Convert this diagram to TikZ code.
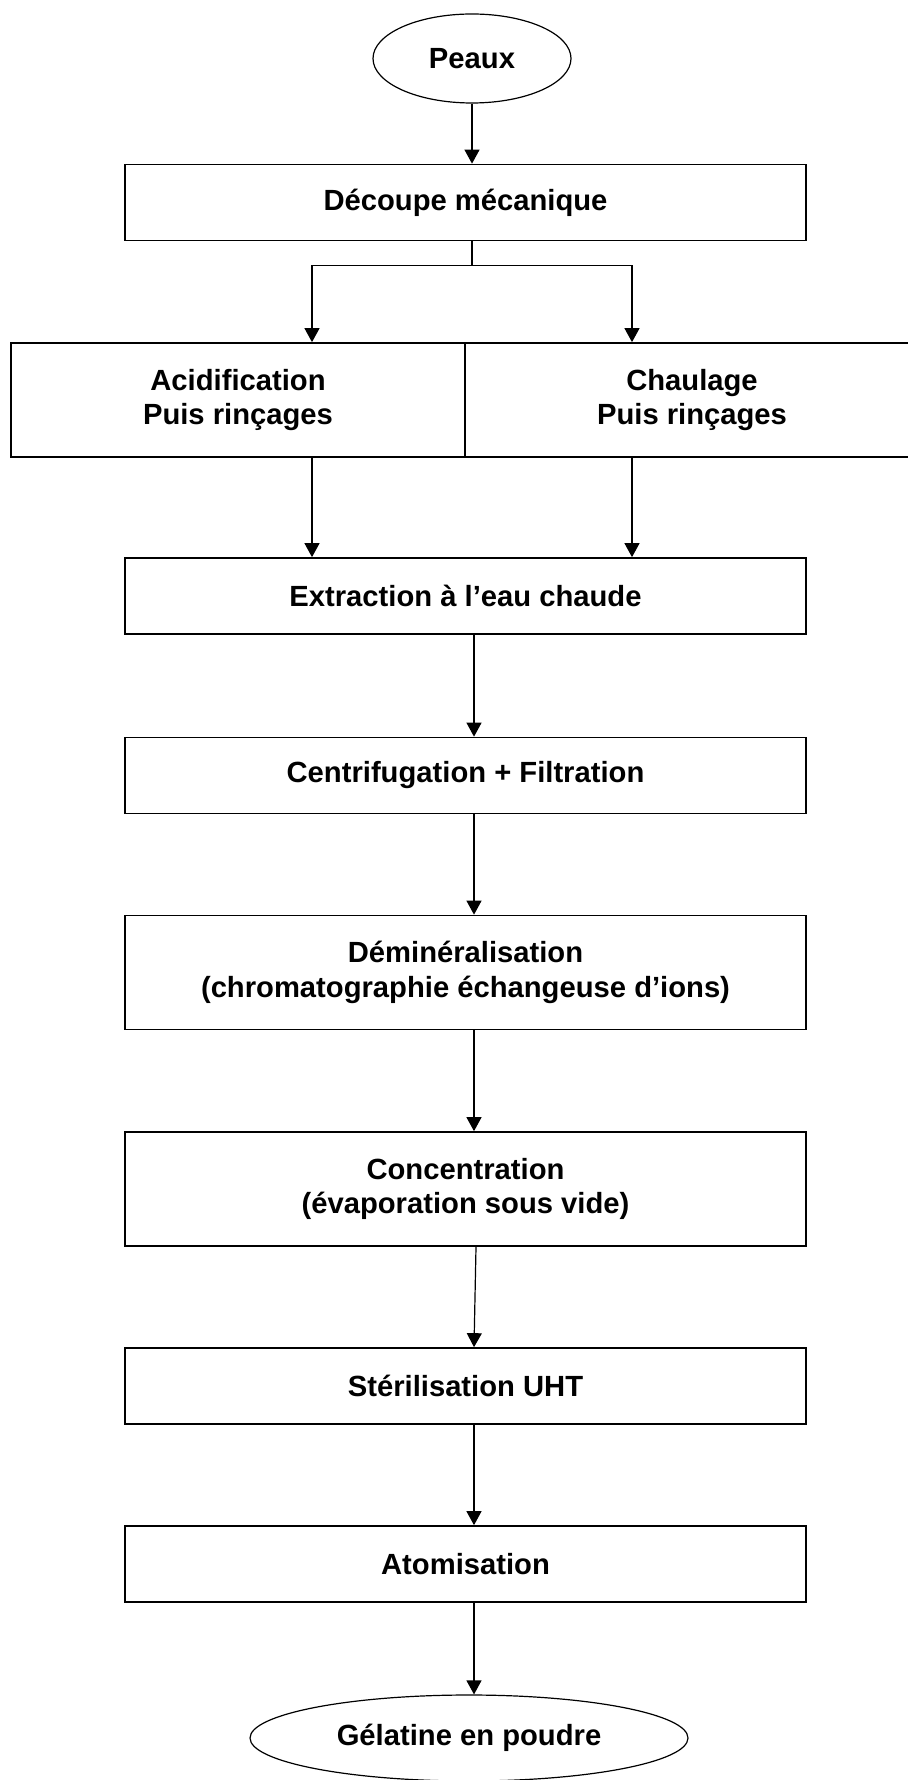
\documentclass[tikz,border=0pt]{standalone}
\usepackage{fontspec}
\setmainfont{Liberation Sans}
\usepackage{tikz}
\usetikzlibrary{arrows.meta,%
	shapes.geometric}
\usetikzlibrary {positioning}
\usetikzlibrary{calc}

\begin{document}
\begin{tikzpicture}[on grid, font = \bfseries\fontsize{14.6}{17.2}\selectfont, stage/.style = {rectangle, draw, line width = 0.85pt, minimum width = 340.5pt, minimum height = 38pt, align = center, inner sep = 0pt}, tallstage/.style = {stage, minimum height = 57pt}, halfstage/.style = {tallstage, minimum width = 227pt}, terminal/.style = {ellipse, draw, line width = 0.6pt, inner sep = 0pt}, flow/.style = {line width = 0.6pt, -{Triangle[length = 7pt, width = 7.5pt]}}]
	\useasboundingbox (0,0) rectangle (454pt,-890pt);
	\clip (0,0) rectangle (454pt,-890pt);
	\node[stage] (Decoupe) at (232.75pt,-101.25pt) {Découpe mécanique};
	\node[terminal, minimum width = 99pt, minimum height = 44.5pt] (Peaux) [above = 72pt of Decoupe, xshift = 3.25pt] {Peaux};
	\node[halfstage] (Acid) [below left = 98.75pt and 113.75pt of Decoupe] {Acidification\\Puis rinçages};
	\node[halfstage] (Chaux) [right = 227pt of Acid] {Chaulage\\Puis rinçages};
	\node[stage] (Extr) [below = 196.75pt of Decoupe] {Extraction à l’eau chaude};
	\node[stage] (Centri) [below = 89.75pt of Extr] {Centrifugation + Filtration};
	\node[tallstage] (Demin) [below = 98.5pt of Centri] {Déminéralisation\\(chromatographie échangeuse d’ions)};
	\node[tallstage] (Conc) [below = 108.25pt of Demin] {Concentration\\(évaporation sous vide)};
	\node[stage] (Steril) [below = 98.5pt of Conc] {Stérilisation UHT};
	\node[stage] (Atom) [below = 89pt of Steril] {Atomisation};
	\node[terminal, minimum width = 219pt, minimum height = 43pt] (Gel) [below = 87pt of Atom, xshift = 1.75pt] {Gélatine en poudre};
	\coordinate (Fork) at ([xshift = 3.25pt, yshift = -12pt]Decoupe.south);
	\coordinate (AcidOut) at ([xshift = 37pt]Acid.south);
	\coordinate (ChauxOut) at ([xshift = -30pt]Chaux.south);
	\coordinate (AtomOut) at ([xshift = 4.25pt]Atom.south);
	\draw[flow] (Peaux.south) -- (Peaux.south |- Decoupe.north);
	\draw[line width = 0.6pt] (Fork |- Decoupe.south) -- (Fork);
	\draw[flow] (Fork) -| ([xshift = 37pt]Acid.north);
	\draw[flow] (Fork) -| ([xshift = -30pt]Chaux.north);
	\draw[flow] (AcidOut) -- (AcidOut |- Extr.north);
	\draw[flow] (ChauxOut) -- (ChauxOut |- Extr.north);
	\draw[flow] ([xshift = 4.25pt]Extr.south) -- ([xshift = 4.25pt]Centri.north);
	\draw[flow] ([xshift = 4.25pt]Centri.south) -- ([xshift = 4.25pt]Demin.north);
	\draw[flow] ([xshift = 4.25pt]Demin.south) -- ([xshift = 4.25pt]Conc.north);
	\draw[flow] ([xshift = 5.25pt]Conc.south) -- ([xshift = 4.25pt]Steril.north);
	\draw[flow] ([xshift = 4.25pt]Steril.south) -- ([xshift = 4.25pt]Atom.north);
	\draw[flow] (AtomOut) -- (AtomOut |- Gel.north);
\end{tikzpicture}
\end{document}
